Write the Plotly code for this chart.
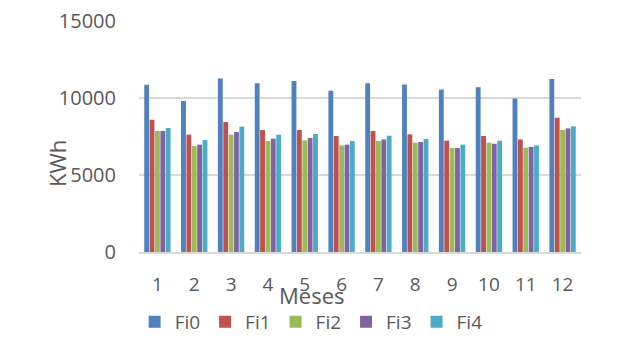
import plotly.graph_objects as go

months = ["1", "2", "3", "4", "5", "6", "7", "8", "9", "10", "11", "12"]
fi0 = [10860, 9800, 11270, 10950, 11100, 10470, 10950, 10880, 10560, 10690, 9960, 11230]
fi1 = [8590, 7620, 8440, 7920, 7920, 7530, 7860, 7640, 7230, 7530, 7310, 8720]
fi2 = [7860, 6880, 7620, 7210, 7250, 6920, 7210, 7100, 6750, 7100, 6770, 7920]
fi3 = [7860, 6970, 7790, 7360, 7400, 6970, 7310, 7140, 6750, 7030, 6820, 8030]
fi4 = [8050, 7270, 8140, 7620, 7660, 7210, 7550, 7340, 6970, 7230, 6920, 8160]
y_ticks = [0, 5000, 10000, 15000]

series = [("Fi0", fi0, "#4F81BD"), ("Fi1", fi1, "#C0504D"), ("Fi2", fi2, "#9BBB59"),
          ("Fi3", fi3, "#8064A2"), ("Fi4", fi4, "#4BACC6")]

font = "Open Sans"
L, R, T, B = 139, 581, 21, 252
W, H = R - L, B - T

def px(x):
    return (x - L) / W

def py(y):
    return (B - y) / H

fig = go.Figure()
for name, vals, col in series:
    fig.add_trace(go.Bar(x=months, y=vals, name=name, marker_color=col, marker_line_width=0))

fig.update_layout(
    width=635, height=337,
    margin=dict(l=L, r=635 - R, t=T, b=337 - B, autoexpand=False),
    paper_bgcolor="white", plot_bgcolor="white",
    barmode="group", bargap=0.27, bargroupgap=0.1,
    font=dict(family=font, color="#595959", size=19),
    showlegend=True,
    legend=dict(orientation="h", x=0.49, xanchor="center", xref="container",
                y=(337 - 322) / 337, yanchor="middle", yref="container",
                font=dict(size=19, color="#595959"), itemwidth=30, traceorder="normal",
                tracegroupgap=0, bgcolor="rgba(0,0,0,0)"),
    xaxis=dict(showgrid=False, showline=True, linecolor="#d9d9d9", linewidth=1.5,
               tickfont=dict(size=19, color="#595959"), ticks="", ticklabelstandoff=14),
    yaxis=dict(range=[0, 15000], tickvals=y_ticks, ticktext=[str(v) for v in y_ticks],
               showgrid=True, gridcolor="#d9d9d9", gridwidth=1.5, zeroline=False, ticks="",
               tickfont=dict(size=20, color="#595959"), ticklabelstandoff=22),
    annotations=[
        dict(text="KWh", xref="paper", yref="paper", x=px(57), y=py(164),
             xanchor="center", yanchor="middle", textangle=-90,
             showarrow=False, font=dict(size=22, color="#595959", family=font)),
        dict(text="Meses", xref="paper", yref="paper", x=px(311), y=py(295),
             xanchor="center", yanchor="middle",
             showarrow=False, font=dict(size=22, color="#595959", family=font)),
    ],
)
fig.write_html("out.html")
